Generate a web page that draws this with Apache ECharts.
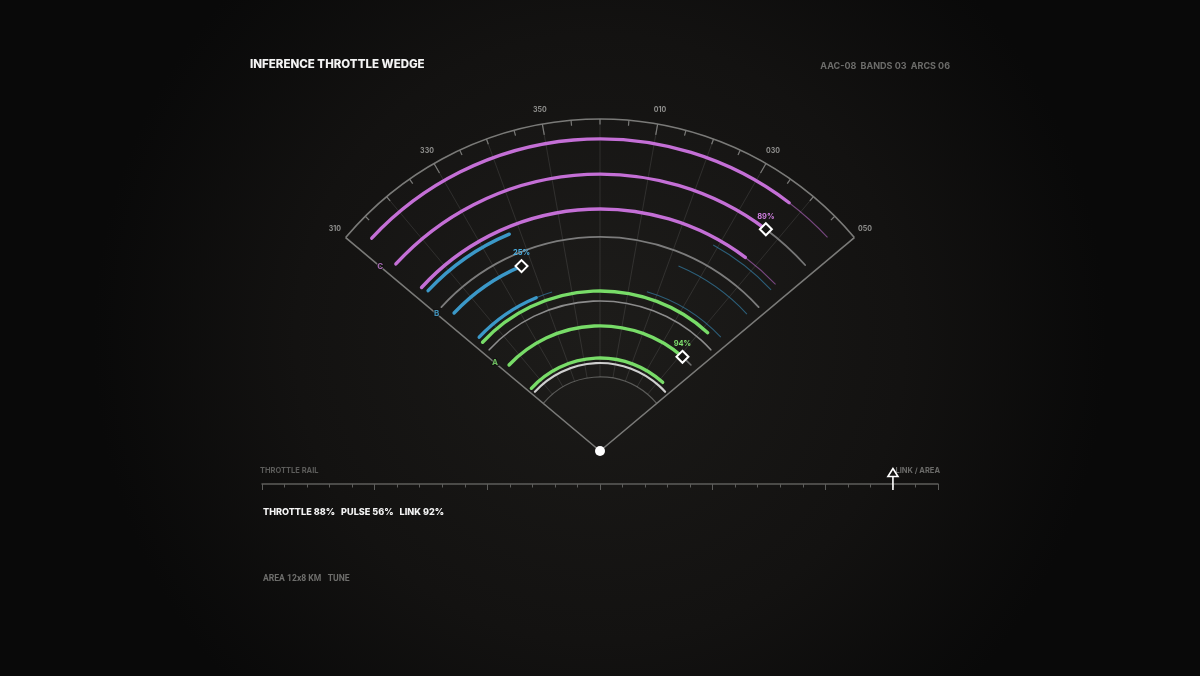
<!DOCTYPE html>
<html><head><meta charset="utf-8">
<script src="https://cdn.jsdelivr.net/npm/echarts@6/dist/echarts.min.js"></script>
<style>html,body{margin:0;padding:0;background:#0e0e0d;}#c{width:1200px;height:676px;}</style>
</head><body><div id="c"></div>
<script>
// ================= DATA =================
const titleText = 'INFERENCE THROTTLE WEDGE';
const metaText = 'AAC-08  BANDS 03  ARCS 06';
const bandNames = ['A', 'B', 'C'];
const bandValues = [94, 25, 89];                 // percent labels at markers
// ring positions on the range axis (0..100), three arcs per band
const bandRings = [[28, 37.7, 48.2], [50, 60.5, 70.8], [72.9, 83.4, 94]];
// bearing (deg, 0 = north) where each value arc starts / ends
const bandArcFrom = [[-47.6, -46.6, -47.2], [-46.7, -46.6, -47], [-47.5, -47.5, -47]];
const bandArcTo = [[42.4, 41.2, 42.3], [-22.6, -23, -22.7], [36.9, 36.8, 37.3]];
const markerRing = [37.7, 60.5, 83.4];
const markerBearing = [41.2, -23, 36.8];
const bandLabelRange = [41.3, 64.2, 86.4];
// grey track arcs
const trackRings = [26.5, 45.2, 64.5, 37.7, 83.4];
const trackFrom = [-47.7, -47.6, -47.8, 41.2, 36.8];
const trackTo = [47.7, 47.6, 47.8, 46.6, 47.8];
// faint residual arcs (band index, ring, from, to)
const ghostBand = [2, 2, 1, 1, 1, 1];
const ghostRings = [94, 72.9, 50, 50, 60.5, 70.8];
const ghostFrom = [37.3, 36.9, -22.6, 16.4, 23, 28.8];
const ghostTo = [46.8, 46.5, -16.8, 46.7, 47, 46.7];
// wedge frame
const wedgeBearings = [-50, 50];
const wedgeRange = [22.3, 100];
const gridBearings = [-40, -30, -20, -10, 0, 10, 20, 30, 40];
const tickBearings = [-50, -45, -40, -35, -30, -25, -20, -15, -10, -5, 0, 5, 10, 15, 20, 25, 30, 35, 40, 45, 50];
const majorTickBearings = [-30, -10, 10, 30];
const bearingLabelValues = [-50, -30, -10, 10, 30, 50];
const bearingLabels = ['310', '330', '350', '010', '030', '050'];
// throttle rail
const railSteps = 30;
const railMajorEvery = 5;
const railMarker = 28;
const railLeftLabel = 'THROTTLE RAIL';
const railRightLabel = 'LINK / AREA';
const statusNames = ['THROTTLE', 'PULSE', 'LINK'];
const statusValues = [88, 56, 92];
const footerText = 'AREA 12x8 KM   TUNE';

// ================= STYLE =================
const bandColors = ['#78dc68', '#3b98c8', '#c46fd6'];
const bandLabelColors = ['#7fe06e', '#4aaee0', '#cf7fe0'];
const trackStyles = [
  { stroke: '#cfcfcf', lineWidth: 2.2 },
  { stroke: '#8c8c8c', lineWidth: 1.6 },
  { stroke: '#7c7c7c', lineWidth: 1.8 },
  { stroke: '#6e6e6e', lineWidth: 1.6 },
  { stroke: '#767676', lineWidth: 1.8 }
];
const frameColor = '#7a7a78';
const FONT = 'Inter, "DejaVu Sans", sans-serif';
const FONT2 = 'Roboto, "DejaVu Sans", sans-serif';

const chart = echarts.init(document.getElementById('c'), null, { renderer: 'canvas' });

function arcShape(params, api, r, from, to) {
  const cs = params.coordSys;
  const p0 = api.coord([r, from]);
  const p1 = api.coord([r, to]);
  const rad = Math.hypot(p0[0] - cs.cx, p0[1] - cs.cy);
  return {
    cx: cs.cx, cy: cs.cy, r: rad,
    startAngle: Math.atan2(p0[1] - cs.cy, p0[0] - cs.cx),
    endAngle: Math.atan2(p1[1] - cs.cy, p1[0] - cs.cx),
    clockwise: true
  };
}

// ---- build series data from arrays ----
const valueArcData = [];
bandRings.forEach((rings, b) => rings.forEach((r, i) => valueArcData.push([r, bandArcFrom[b][i], bandArcTo[b][i], b])));
const trackData = trackRings.map((r, i) => [r, trackFrom[i], trackTo[i], i]);
const ghostData = ghostRings.map((r, i) => [r, ghostFrom[i], ghostTo[i], ghostBand[i]]);

const series = [];

// wedge frame (fill, edges, outer + inner arc)
series.push({
  type: 'custom', coordinateSystem: 'polar', z: 1, silent: true,
  data: [[wedgeRange[1], wedgeBearings[0], wedgeBearings[1], wedgeRange[0]]],
  renderItem(params, api) {
    const cs = params.coordSys;
    const outer = api.value(0), from = api.value(1), to = api.value(2), inner = api.value(3);
    const pl = api.coord([outer, from]), pr = api.coord([outer, to]);
    const so = arcShape(params, api, outer, from, to);
    const si = arcShape(params, api, inner, from, to);
    return {
      type: 'group', children: [
        { type: 'sector', shape: { cx: cs.cx, cy: cs.cy, r0: 0, r: so.r, startAngle: so.startAngle, endAngle: so.endAngle, clockwise: true },
          style: { fill: 'rgba(255,255,255,0.012)' } },
        { type: 'arc', shape: si, style: { fill: 'none', stroke: '#5b5b59', lineWidth: 1.2 } },
        { type: 'arc', shape: so, style: { fill: 'none', stroke: frameColor, lineWidth: 1.6 } },
        { type: 'line', shape: { x1: cs.cx, y1: cs.cy, x2: pl[0], y2: pl[1] }, style: { stroke: frameColor, lineWidth: 1.6 } },
        { type: 'line', shape: { x1: cs.cx, y1: cs.cy, x2: pr[0], y2: pr[1] }, style: { stroke: frameColor, lineWidth: 1.6 } }
      ]
    };
  }
});

// radial grid lines
series.push({
  type: 'custom', coordinateSystem: 'polar', z: 1, silent: true,
  data: gridBearings.map(b => [wedgeRange[1], b]),
  renderItem(params, api) {
    const b = api.value(1);
    const p0 = api.coord([wedgeRange[0], b]), p1 = api.coord([api.value(0), b]);
    return { type: 'line', shape: { x1: p0[0], y1: p0[1], x2: p1[0], y2: p1[1] }, style: { stroke: 'rgba(255,255,255,0.10)', lineWidth: 1 } };
  }
});

// ticks on outer arc
series.push({
  type: 'custom', coordinateSystem: 'polar', z: 2, silent: true,
  data: tickBearings.map(b => [wedgeRange[1], b]),
  renderItem(params, api) {
    const cs = params.coordSys;
    const b = api.value(1);
    const p = api.coord([api.value(0), b]);
    const dx = p[0] - cs.cx, dy = p[1] - cs.cy, L = Math.hypot(dx, dy);
    const len = majorTickBearings.indexOf(b) >= 0 ? 11 : 5.5;
    return { type: 'line', shape: { x1: p[0], y1: p[1], x2: p[0] - dx / L * len, y2: p[1] - dy / L * len }, style: { stroke: frameColor, lineWidth: 1.2 } };
  }
});

// bearing labels
series.push({
  type: 'custom', coordinateSystem: 'polar', z: 2, silent: true,
  data: bearingLabelValues.map((b, i) => [wedgeRange[1], b, i]),
  renderItem(params, api) {
    const cs = params.coordSys;
    const p = api.coord([api.value(0), api.value(1)]);
    const dx = p[0] - cs.cx, dy = p[1] - cs.cy, L = Math.hypot(dx, dy);
    const off = 14;
    return { type: 'text', x: p[0] + dx / L * off, y: p[1] + dy / L * off,
      style: { text: bearingLabels[api.value(2)], fill: '#8e8e8c', font: 'bold 7px ' + FONT, align: 'center', verticalAlign: 'middle' } };
  }
});

// grey tracks
series.push({
  type: 'custom', coordinateSystem: 'polar', z: 3, silent: true,
  data: trackData,
  renderItem(params, api) {
    const st = trackStyles[api.value(3)];
    return { type: 'arc', shape: arcShape(params, api, api.value(0), api.value(1), api.value(2)),
      style: { fill: 'none', stroke: st.stroke, lineWidth: st.lineWidth, lineCap: 'round' } };
  }
});

// faint residual arcs
series.push({
  type: 'custom', coordinateSystem: 'polar', z: 3, silent: true,
  data: ghostData,
  renderItem(params, api) {
    return { type: 'arc', shape: arcShape(params, api, api.value(0), api.value(1), api.value(2)),
      style: { fill: 'none', stroke: bandColors[api.value(3)], lineWidth: 1.1, opacity: 0.55 } };
  }
});

// value arcs
series.push({
  type: 'custom', coordinateSystem: 'polar', z: 4, silent: true,
  data: valueArcData,
  renderItem(params, api) {
    return { type: 'arc', shape: arcShape(params, api, api.value(0), api.value(1), api.value(2)),
      style: { fill: 'none', stroke: bandColors[api.value(3)], lineWidth: 3.4, lineCap: 'round' } };
  }
});

// markers
series.push({
  type: 'scatter', coordinateSystem: 'polar', z: 6, silent: true,
  symbol: 'diamond', symbolSize: [12, 12],
  data: markerRing.map((r, i) => ({
    value: [r, markerBearing[i]],
    label: { show: true, position: 'top', distance: 2, formatter: bandValues[i] + '%',
      color: bandLabelColors[i], fontSize: 7.5, fontWeight: 'bold', fontFamily: FONT }
  })),
  itemStyle: { color: '#161513', borderColor: '#ffffff', borderWidth: 2, opacity: 1 }
});

// band letters
series.push({
  type: 'scatter', coordinateSystem: 'polar', z: 6, silent: true,
  symbolSize: 1, itemStyle: { color: 'rgba(0,0,0,0)' },
  data: bandLabelRange.map((r, i) => ({
    value: [r, wedgeBearings[0]],
    label: { show: true, position: 'inside', formatter: bandNames[i], color: bandLabelColors[i],
      fontSize: 8, fontWeight: 'bold', fontFamily: FONT, textBorderColor: '#121110', textBorderWidth: 2 }
  }))
});

// center dot
series.push({
  type: 'scatter', coordinateSystem: 'polar', z: 7, silent: true,
  symbol: 'circle', symbolSize: 10, data: [[0, 0]], itemStyle: { color: '#ffffff', opacity: 1 }
});

// rail marker
series.push({
  type: 'custom', coordinateSystem: 'cartesian2d', xAxisIndex: 0, yAxisIndex: 0, z: 10, silent: true,
  data: [[railMarker, 0]],
  renderItem(params, api) {
    const p = api.coord([api.value(0), api.value(1)]);
    const x = p[0], y = p[1];
    return { type: 'group', children: [
      { type: 'line', shape: { x1: x, y1: y - 8, x2: x, y2: y + 6 }, style: { stroke: '#ffffff', lineWidth: 1.6 } },
      { type: 'polygon', shape: { points: [[x, y - 15.5], [x + 5, y - 7.5], [x - 5, y - 7.5]] },
        style: { fill: '#131211', stroke: '#ffffff', lineWidth: 1.6 } }
    ] };
  }
});

const statusText = statusNames.map((n, i) => n + ' ' + statusValues[i] + '%').join('   ');

chart.setOption({
  backgroundColor: { type: 'radial', x: 0.5, y: 0.5, r: 0.75,
    colorStops: [{ offset: 0, color: '#1b1a18' }, { offset: 0.6, color: '#131211' }, { offset: 1, color: '#090909' }] },
  animation: false,
  polar: { center: [600, 451], radius: 332 },
  angleAxis: { type: 'value', min: -180, max: 180, startAngle: 270, clockwise: true, show: false },
  radiusAxis: { type: 'value', min: 0, max: 100, show: false },
  grid: { left: 262, right: 262, top: 480, height: 4 },
  xAxis: { type: 'value', min: 0, max: railSteps, interval: railMajorEvery,
    axisLine: { show: true, lineStyle: { color: '#5d5d5b', width: 1.5 } },
    axisTick: { show: true, length: 6, lineStyle: { color: '#5d5d5b', width: 1 } },
    minorTick: { show: true, splitNumber: railMajorEvery, length: 3.5, lineStyle: { color: '#5d5d5b', width: 1 } },
    axisLabel: { show: false }, splitLine: { show: false } },
  yAxis: { type: 'value', min: 0, max: 1, show: false },
  graphic: [
    { type: 'text', x: 250, y: 65, z: 0, style: { text: titleText, fill: '#f4f4f4', font: '800 11.5px ' + FONT, verticalAlign: 'middle' } },
    { type: 'text', x: 950, y: 66, z: 0, style: { text: metaText, fill: '#6c6c6a', font: 'bold 9px ' + FONT, align: 'right', verticalAlign: 'middle' } },
    { type: 'text', x: 260, y: 471, z: 0, style: { text: railLeftLabel, fill: '#5c5c5a', font: 'bold 7.5px ' + FONT, verticalAlign: 'middle' } },
    { type: 'text', x: 940, y: 471, z: 0, style: { text: railRightLabel, fill: '#6a6a68', font: 'bold 7.5px ' + FONT, align: 'right', verticalAlign: 'middle' } },
    { type: 'text', x: 263, y: 512, z: 0, style: { text: statusText, fill: '#f4f4f4', font: '800 9.1px ' + FONT, verticalAlign: 'middle' } },
    { type: 'text', x: 263, y: 579, z: 0, style: { text: footerText, fill: '#6e6e6c', font: 'bold 8.6px ' + FONT2, verticalAlign: 'middle' } }
  ],
  series: series
});
</script>
</body></html>
